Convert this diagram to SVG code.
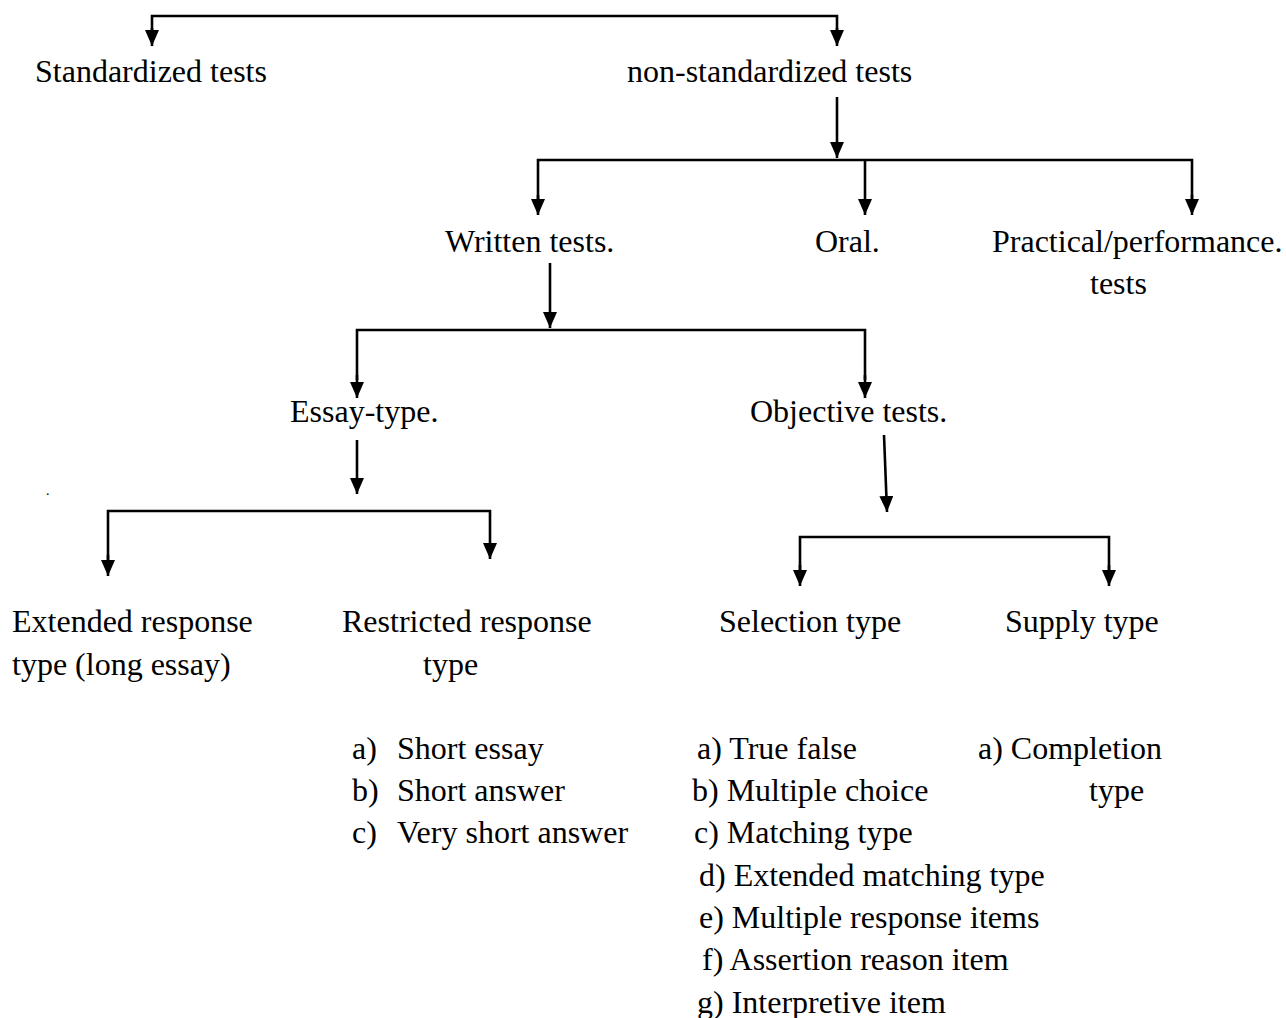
<svg xmlns="http://www.w3.org/2000/svg" width="1286" height="1018" viewBox="0 0 1286 1018">
<defs>
<marker id="ah" markerUnits="userSpaceOnUse" markerWidth="17" markerHeight="14" refX="16" refY="7" orient="auto">
<path d="M0,0 L16,7 L0,14 z" fill="#000"/>
</marker>
<style>
text{font-family:"Liberation Serif","Times New Roman",serif;font-size:32px;fill:#000}
.c{fill:none;stroke:#000;stroke-width:2.6}
.a{marker-end:url(#ah)}
</style>
</defs>
<rect width="1286" height="1018" fill="#fff"/>
<g id="connectors">
<path class="c" d="M152,40 V16 H837 V40"/>
<line class="c a" x1="152" y1="28" x2="152" y2="46"/>
<line class="c a" x1="837" y1="28" x2="837" y2="46"/>
<line class="c a" x1="837" y1="97" x2="837" y2="158"/>
<path class="c" d="M538,200 V160 H1192 V200"/>
<line class="c a" x1="538" y1="195" x2="538" y2="215"/>
<line class="c a" x1="865" y1="160" x2="865" y2="215"/>
<line class="c a" x1="1192" y1="195" x2="1192" y2="215"/>
<line class="c a" x1="550" y1="263" x2="550" y2="328"/>
<path class="c" d="M357,380 V330 H865 V380"/>
<line class="c a" x1="357" y1="375" x2="357" y2="398"/>
<line class="c a" x1="865" y1="375" x2="865" y2="398"/>
<line class="c a" x1="357" y1="440" x2="357" y2="494"/>
<path class="c" d="M108,560 V511 H490 V540"/>
<line class="c a" x1="108" y1="555" x2="108" y2="576"/>
<line class="c a" x1="490" y1="540" x2="490" y2="559"/>
<line class="c a" x1="884" y1="435" x2="887" y2="512"/>
<path class="c" d="M800,570 V537 H1109 V570"/>
<line class="c a" x1="800" y1="565" x2="800" y2="586"/>
<line class="c a" x1="1109" y1="565" x2="1109" y2="586"/>
</g>
<g id="n-standardized"><text x="35" y="82">Standardized tests</text></g>
<g id="n-nonstandardized"><text x="627" y="82">non-standardized tests</text></g>
<g id="n-written"><text x="445" y="252">Written tests.</text></g>
<g id="n-oral"><text x="815" y="252">Oral.</text></g>
<g id="n-practical"><text x="992" y="252">Practical/performance.</text><text x="1090" y="294">tests</text></g>
<g id="n-essay"><text x="290" y="422">Essay-type.</text></g>
<g id="n-objective"><text x="750" y="422">Objective tests.</text></g>
<g id="n-dot"><text x="46" y="495" style="font-size:14px">.</text></g>
<g id="n-extended"><text x="12" y="632">Extended response</text><text x="12" y="675">type (long essay)</text></g>
<g id="n-restricted"><text x="342" y="632">Restricted response</text><text x="423" y="675">type</text></g>
<g id="n-selection"><text x="719" y="632">Selection type</text></g>
<g id="n-supply"><text x="1005" y="632">Supply type</text></g>
<g id="n-restricted-list">
<text x="352" y="759">a)</text><text x="397" y="759">Short essay</text>
<text x="352" y="801">b)</text><text x="397" y="801">Short answer</text>
<text x="352" y="843">c)</text><text x="397" y="843">Very short answer</text>
</g>
<g id="n-selection-list">
<text x="697" y="759">a) True false</text>
<text x="692" y="801">b) Multiple choice</text>
<text x="694" y="843">c) Matching type</text>
<text x="699" y="886">d) Extended matching type</text>
<text x="699" y="928">e) Multiple response items</text>
<text x="702" y="970">f) Assertion reason item</text>
<text x="697" y="1013">g) Interpretive item</text>
</g>
<g id="n-supply-list">
<text x="978" y="759">a) Completion</text>
<text x="1089" y="801">type</text>
</g>
</svg>
